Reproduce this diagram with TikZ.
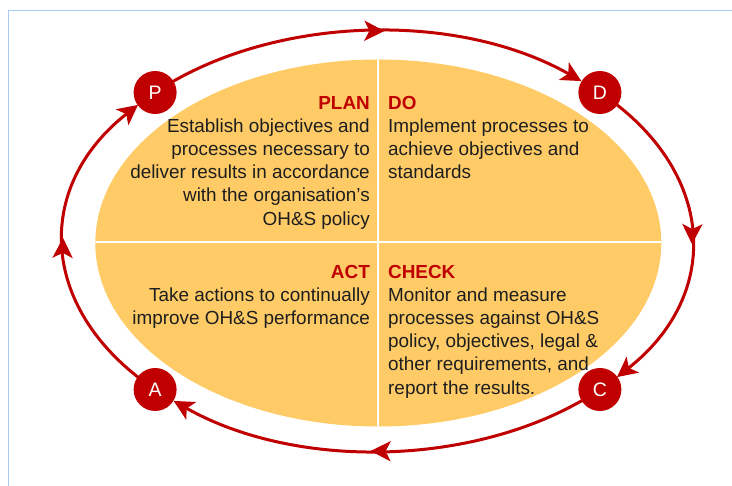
\documentclass[tikz,border=0pt]{standalone}
\usepackage{fontspec}
\setmainfont{Liberation Sans}
\usetikzlibrary{arrows.meta,decorations.markings,calc}

\definecolor{cycred}{HTML}{C00000}
\definecolor{quadfill}{HTML}{FECB67}
\definecolor{bodytext}{HTML}{1E1E1E}
\definecolor{framec}{HTML}{A9C9F2}

\tikzset{
  cycarrow/.style={
    draw=cycred, line width=3bp,
    -{Stealth[length=20bp,width=20bp,inset=5bp]},
    postaction={decorate},
    decoration={markings,
      mark=at position 0.54 with {\arrow{Stealth[length=20bp,width=20bp,inset=5bp]}}}
  },
  stage/.style={circle, fill=cycred, minimum size=43bp, inner sep=0pt,
    text=white, font=\fontsize{19.5bp}{19.5bp}\selectfont},
  quadtext/.style={inner sep=0pt, text=bodytext,
    font=\fontsize{18.9bp}{23.2bp}\selectfont}
}

\newcommand{\firstline}{\rule{0pt}{16bp}}

\begin{document}
\begin{tikzpicture}[x=1bp, y=1bp]
  \useasboundingbox (0,0) rectangle (732,486);

  % thin page frame
  \begin{scope}
    \clip (0,0) rectangle (732,486);
    \draw[framec, line width=1bp] (8.5,-20) |- (760,475.5);
  \end{scope}

  % centres of the two ellipses
  \coordinate (O) at (377.5,245);
  \coordinate (Y) at (378.3,243);

  % yellow quadrant ellipse with white dividers
  \fill[quadfill] (Y) ellipse [x radius=283bp, y radius=183.5bp];
  \begin{scope}
    \clip (Y) ellipse [x radius=283bp, y radius=183.5bp];
    \draw[white, line width=2bp] (378,40) -- (378,450);
    \draw[white, line width=2bp] (80,244) -- (680,244);
  \end{scope}

  % quadrant texts
  \node[quadtext, align=right, anchor=north east] (plan) at (370,393)
    {\firstline\textcolor{cycred}{\bfseries PLAN}\\
     Establish objectives and\\
     processes necessary to\\
     deliver results in accordance\\
     with the organisation’s\\
     OH\&S policy};
  \node[quadtext, align=left, anchor=north west] (do) at (388,393)
    {\firstline\textcolor{cycred}{\bfseries DO}\\
     Implement processes to\\
     achieve objectives and\\
     standards};
  \node[quadtext, align=right, anchor=north east] (act) at (370,224)
    {\firstline\textcolor{cycred}{\bfseries ACT}\\
     Take actions to continually\\
     improve OH\&S performance};
  \node[quadtext, align=left, anchor=north west] (check) at (388,224)
    {\firstline\textcolor{cycred}{\bfseries CHECK}\\
     Monitor and measure\\
     processes against OH\&S\\
     policy, objectives, legal \&\\
     other requirements, and\\
     report the results.};

  % stage positions on the cycle
  \coordinate (Pc) at ($(O)+(135:314.5 and 210)$);
  \coordinate (Dc) at ($(O)+(45:314.5 and 210)$);
  \coordinate (Cc) at ($(O)+(-45:314.5 and 210)$);
  \coordinate (Ac) at ($(O)+(225:314.5 and 210)$);

  % cycle arcs
  \draw[cycarrow] (Pc) arc[start angle=135, end angle=49.6, x radius=314.5bp, y radius=210bp];
  \draw[cycarrow] (Dc) arc[start angle=45, end angle=-40.4, x radius=314.5bp, y radius=210bp];
  \draw[cycarrow] (Cc) arc[start angle=-45, end angle=-130.4, x radius=314.5bp, y radius=210bp];
  \draw[cycarrow] (Ac) arc[start angle=225, end angle=139.6, x radius=314.5bp, y radius=210bp];

  \node[stage] (P) at (Pc) {P};
  \node[stage] (D) at (Dc) {D};
  \node[stage] (C) at (Cc) {C};
  \node[stage] (A) at (Ac) {A};
\end{tikzpicture}
\end{document}
